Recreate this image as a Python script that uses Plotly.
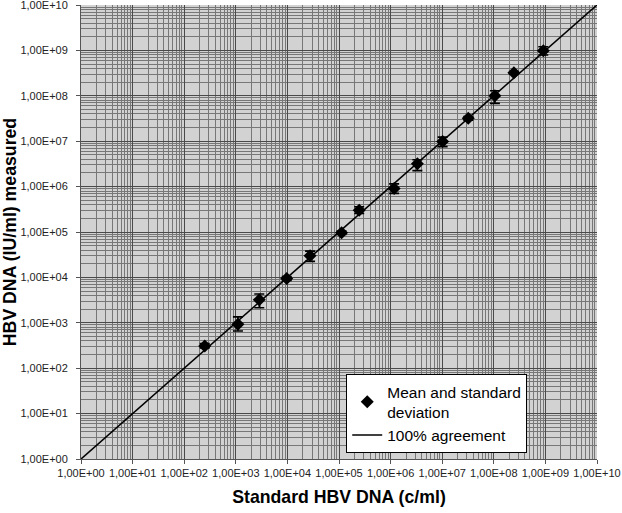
import plotly.graph_objects as go

# Standard HBV DNA (c/ml) and measured HBV DNA (IU/ml)
standard = [2.5e2, 1.1e3, 2.85e3, 9.7e3, 2.75e4, 1.12e5, 2.46e5, 1.17e6, 3.3e6, 1.02e7, 3.2e7, 1.05e8, 2.45e8, 9.1e8]
measured = [3.1e2, 9.3e2, 3.2e3, 9.5e3, 3.0e4, 9.6e4, 3.0e5, 9.1e5, 3.2e6, 9.8e6, 3.2e7, 1.0e8, 3.2e8, 9.8e8]
sd_upper = [3.5e2, 1.35e3, 4.3e3, 1.05e4, 3.8e4, 1.05e5, 3.6e5, 1.15e6, 3.9e6, 1.23e7, 3.5e7, 1.29e8, 3.4e8, 1.2e9]
sd_lower = [2.8e2, 6.6e2, 2.15e3, 8.6e3, 2.25e4, 8.8e4, 2.55e5, 7.1e5, 2.25e6, 7.6e6, 2.9e7, 6.8e7, 3.0e8, 7.9e8]

agree_x = [1, 1e10]
agree_y = [1, 1e10]

tick_vals = [10 ** k for k in range(11)]
tick_text = ["1,00E+%02d" % k for k in range(11)]

err_plus = [u - m for u, m in zip(sd_upper, measured)]
err_minus = [m - l for m, l in zip(measured, sd_lower)]

fig = go.Figure()
fig.add_trace(go.Scatter(
    x=agree_x, y=agree_y, mode="lines",
    line=dict(color="black", width=1.6),
    name="100% agreement",
))
fig.add_trace(go.Scatter(
    x=standard, y=measured, mode="markers",
    marker=dict(symbol="diamond", size=10, color="black"),
    error_y=dict(type="data", symmetric=False, array=err_plus, arrayminus=err_minus,
                 color="black", thickness=1.6, width=5),
    name="Mean and standard<br>deviation",
))

axis_common = dict(
    type="log",
    range=[0, 10],
    tickmode="array",
    tickvals=tick_vals,
    ticktext=tick_text,
    showgrid=True,
    gridcolor="#4a4a4a",
    gridwidth=1,
    showline=True,
    linecolor="#555555",
    linewidth=1,
    ticks="outside",
    ticklen=4,
    tickcolor="#555555",
    tickfont=dict(family="Liberation Sans, Arial", size=11, color="#222222"),
    minor=dict(dtick="D1", showgrid=True, gridcolor="#777777", gridwidth=1),
    zeroline=False,
    automargin=False,
    ticklabeloverflow="allow",
)

fig.update_layout(
    width=622, height=513,
    margin=dict(l=81, r=25, t=5, b=54),
    paper_bgcolor="white",
    plot_bgcolor="#d2d2d2",
    showlegend=True,
    legend=dict(
        x=0.514, y=0.187, xanchor="left", yanchor="top",
        bgcolor="white", bordercolor="black", borderwidth=1,
        font=dict(family="Liberation Sans, Arial", size=15.5, color="black"),
        traceorder="reversed",
        tracegroupgap=0,
    ),
    xaxis=dict(axis_common, title=dict(text="<b>Standard HBV DNA (c/ml)</b>",
                                       font=dict(family="Liberation Sans, Arial", size=17.7, color="black"),
                                       standoff=12)),
    yaxis=dict(axis_common, ticklabelstandoff=6,
               title=dict(text="<b>HBV DNA (IU/ml) measured</b>",
                          font=dict(family="Liberation Sans, Arial", size=17.7, color="black"),
                          standoff=8)),
)

fig.write_html("out.html",
               config={"displayModeBar": False},
               post_script="document.body.style.margin='0';document.body.style.padding='0';")
